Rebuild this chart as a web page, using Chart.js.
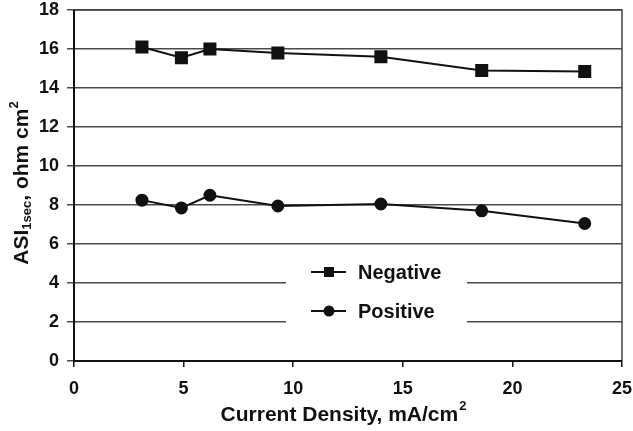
<!DOCTYPE html>
<html>
<head>
<meta charset="utf-8">
<script src="https://cdn.jsdelivr.net/npm/chart.js@4"></script>
<style>
  html, body { margin: 0; padding: 0; background: #fff; }
  #wrap { width: 633px; height: 431px; }
</style>
</head>
<body>
<div id="wrap"><canvas id="asiChart" width="633" height="431"></canvas></div>
<script>
/* data */
const currentDensity = [3.1, 4.9, 6.2, 9.3, 14.0, 18.6, 23.3];
const negativeASI    = [16.1, 15.55, 16.0, 15.8, 15.6, 14.9, 14.85];
const positiveASI    = [8.25, 7.85, 8.5, 7.95, 8.05, 7.7, 7.05];
const seriesNames    = ['Negative', 'Positive'];

const FONT = '"Liberation Sans", Arial, sans-serif';

const toXY = ys => currentDensity.map((x, i) => ({ x, y: ys[i] }));

/* frame + in-plot legend + axis titles with sub/superscripts */
const decorations = {
  id: 'decorations',
  beforeDatasetsDraw(chart) {
    const { ctx, chartArea: a } = chart;
    ctx.save();
    // white legend box hides the gridlines behind it
    ctx.fillStyle = '#fff';
    ctx.fillRect(286, 250, 181, 84);
    // frame
    ctx.strokeStyle = '#444';
    ctx.lineWidth = 1.5;
    ctx.beginPath();
    ctx.moveTo(a.left, a.top);
    ctx.lineTo(a.right, a.top);
    ctx.lineTo(a.right, a.bottom);
    ctx.stroke();
    ctx.strokeStyle = '#111';
    ctx.lineWidth = 2;
    ctx.beginPath();
    ctx.moveTo(a.left, a.top);
    ctx.lineTo(a.left, a.bottom);
    ctx.lineTo(a.right, a.bottom);
    ctx.stroke();
    ctx.restore();
  },
  afterDraw(chart) {
    const { ctx } = chart;
    ctx.save();
    ctx.fillStyle = '#111';
    ctx.strokeStyle = '#111';

    // legend
    const rows = [{ y: 272, style: 'rect' }, { y: 311, style: 'circle' }];
    rows.forEach((r, i) => {
      ctx.lineWidth = 2;
      ctx.beginPath();
      ctx.moveTo(311, r.y);
      ctx.lineTo(346, r.y);
      ctx.stroke();
      ctx.beginPath();
      if (r.style === 'rect') ctx.rect(324, r.y - 5, 10, 10);
      else ctx.arc(329, r.y, 5.5, 0, Math.PI * 2);
      ctx.fill();
      ctx.font = 'bold 20px ' + FONT;
      ctx.textAlign = 'left';
      ctx.textBaseline = 'middle';
      ctx.fillText(seriesNames[i], 358, r.y + 1);
    });

    // x title: Current Density, mA/cm²
    ctx.textBaseline = 'alphabetic';
    const xt = 'Current Density, mA/cm';
    ctx.font = 'bold 21px ' + FONT;
    const w1 = ctx.measureText(xt).width;
    ctx.font = 'bold 13px ' + FONT;
    const w2 = ctx.measureText('2').width;
    let x0 = 343 - (w1 + w2) / 2;
    ctx.textAlign = 'left';
    ctx.font = 'bold 21px ' + FONT;
    ctx.fillText(xt, x0, 421);
    ctx.font = 'bold 13px ' + FONT;
    ctx.fillText('2', x0 + w1 + 1, 410);

    // y title: ASI1sec, ohm cm²
    ctx.translate(28, 183);
    ctx.rotate(-Math.PI / 2);
    const parts = [
      { t: 'ASI', f: 21, dy: 0 },
      { t: '1sec', f: 13, dy: 3 },
      { t: ', ohm cm', f: 21, dy: 0 },
      { t: '2', f: 13, dy: -10 }
    ];
    let total = 0;
    parts.forEach(p => { ctx.font = 'bold ' + p.f + 'px ' + FONT; p.w = ctx.measureText(p.t).width; total += p.w; });
    let px = -total / 2;
    parts.forEach(p => {
      ctx.font = 'bold ' + p.f + 'px ' + FONT;
      ctx.fillText(p.t, px, p.dy);
      px += p.w;
    });
    ctx.restore();
  }
};

new Chart(document.getElementById('asiChart'), {
  type: 'scatter',
  data: {
    datasets: [
      {
        label: seriesNames[0],
        data: toXY(negativeASI),
        showLine: true,
        borderColor: '#111',
        backgroundColor: '#111',
        borderWidth: 2,
        pointStyle: 'rect',
        pointRadius: 7.8,
        pointHoverRadius: 7.8
      },
      {
        label: seriesNames[1],
        data: toXY(positiveASI),
        showLine: true,
        borderColor: '#111',
        backgroundColor: '#111',
        borderWidth: 2,
        pointStyle: 'circle',
        pointRadius: 5.5,
        pointHoverRadius: 5.5
      }
    ]
  },
  options: {
    responsive: false,
    animation: false,
    layout: { padding: { top: 10, right: 11, left: 0, bottom: 0 } },
    plugins: { legend: { display: false }, tooltip: { enabled: false } },
    scales: {
      x: {
        type: 'linear',
        min: 0, max: 25,
        ticks: { stepSize: 5, color: '#111', padding: 11, font: { family: FONT, size: 18, weight: 'bold' } },
        grid: { drawOnChartArea: false, color: '#111', tickLength: 6, lineWidth: 1.5 },
        border: { display: false },
        afterFit: s => { s.height = 70; s.paddingLeft = 0; s.paddingRight = 0; }
      },
      y: {
        min: 0, max: 18,
        ticks: { stepSize: 2, color: '#111', padding: 8, font: { family: FONT, size: 18, weight: 'bold' } },
        grid: { color: '#4a4a4a', tickLength: 7, lineWidth: 1.5 },
        border: { display: false },
        afterFit: s => { s.width = 74; s.paddingTop = 0; s.paddingBottom = 0; }
      }
    }
  },
  plugins: [decorations]
});
</script>
</body>
</html>
